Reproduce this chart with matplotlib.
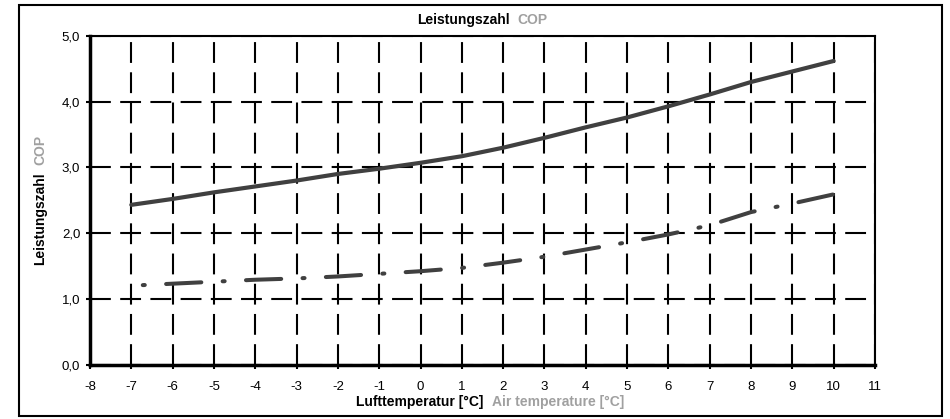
import matplotlib
matplotlib.use("Agg")
import matplotlib.pyplot as plt
import matplotlib.patches as patches
import numpy as np

plt.rcParams['font.family'] = ['Liberation Sans', 'DejaVu Sans']
plt.rcParams['axes.unicode_minus'] = False

# data
temps = [-7, -6, -5, -4, -3, -2, -1, 0, 1, 2, 3, 4, 5, 6, 7, 8, 9, 10]
cop_upper = [2.43, 2.52, 2.62, 2.71, 2.80, 2.90, 2.98, 3.07, 3.17, 3.30, 3.45,
             3.61, 3.76, 3.93, 4.11, 4.30, 4.46, 4.62]
cop_lower = [1.20, 1.23, 1.26, 1.29, 1.31, 1.34, 1.38, 1.42, 1.47, 1.55, 1.64,
             1.75, 1.86, 1.98, 2.12, 2.32, 2.45, 2.59]
x_ticks = list(range(-8, 12))
y_ticks = [0, 1, 2, 3, 4, 5]
y_tick_labels = ['0,0', '1,0', '2,0', '3,0', '4,0', '5,0']

title_parts = [('Leistungszahl', 'black'), ('COP', '#a0a0a0')]
xlabel_parts = [('Lufttemperatur [°C]', 'black'), ('Air temperature [°C]', '#a0a0a0')]
ylabel_parts = [('Leistungszahl', 'black'), ('COP', '#a0a0a0')]

LINE_COLOR = '#404040'

fig = plt.figure(figsize=(9.5, 4.19), dpi=100)
ax = fig.add_axes([90 / 950, 1 - 364.5 / 419, 785 / 950, 328.5 / 419])

# outer frame round the whole picture
fig.patches.append(patches.Rectangle((19 / 950, 3 / 419), 923 / 950, 411 / 419,
                                     transform=fig.transFigure, fill=False,
                                     edgecolor='black', linewidth=1.5))

ax.set_xlim(-8, 11)
ax.set_ylim(0, 5)
ax.set_xticks(x_ticks)
ax.set_yticks(y_ticks)
ax.set_yticklabels(y_tick_labels)
ax.tick_params(axis='both', direction='out', length=3, width=1.5, labelsize=9.5, pad=4)
ax.tick_params(axis='x', pad=9)

ax.grid(True, color='black', linewidth=1.5, linestyle=(0, (10, 4.5)))
ax.set_axisbelow(True)

for side in ['left', 'bottom']:
    ax.spines[side].set_linewidth(2.5)
for side in ['top', 'right']:
    ax.spines[side].set_linewidth(1.5)

ax.plot(temps, cop_upper, '-', color=LINE_COLOR, linewidth=3, solid_capstyle='round', zorder=5)
# dash-dot curve, starts in a gap so the first mark is a dot
ax.plot(temps, cop_lower, color=LINE_COLOR, linewidth=2.9,
        linestyle=(17.0, (0.5, 5.3, 8.75, 5.3)), dash_capstyle='round', zorder=5)


def two_tone(parts, x, y, rotation=0, gap=8):
    # draw consecutive bits of text in different colours, centred on (x, y) in pixels
    renderer = fig.canvas.get_renderer()
    texts = []
    for s, c in parts:
        t = fig.text(0, 0, s, color=c, fontsize=10, fontweight='bold', rotation=rotation,
                     ha='left', va='center', rotation_mode='anchor', transform=None)
        texts.append(t)
    widths = []
    for t in texts:
        bb = t.get_window_extent(renderer)
        widths.append(bb.height if rotation else bb.width)
    total = sum(widths) + gap * (len(widths) - 1)
    pos = -total / 2
    for t, w in zip(texts, widths):
        if rotation:
            t.set_position((x, y + pos))
        else:
            t.set_position((x + pos, y))
        pos += w + gap


two_tone(title_parts, 482, 419 - 20)
two_tone(xlabel_parts, 490, 419 - 402)
two_tone(ylabel_parts, 40, 419 - 200, rotation=90)

fig.savefig('out.png', dpi=100)
